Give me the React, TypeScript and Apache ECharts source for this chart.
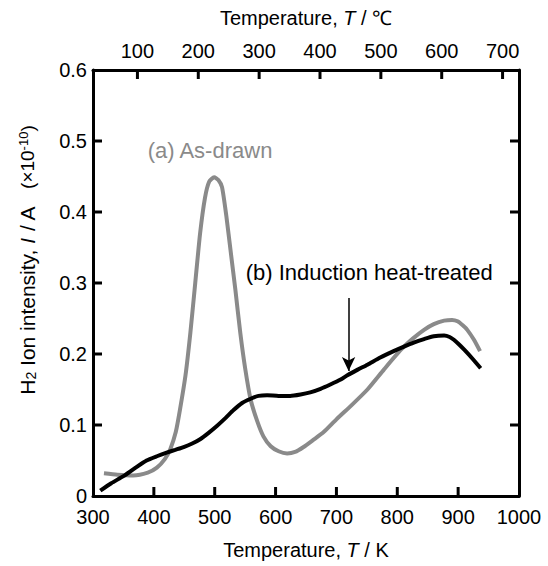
import React, { useEffect, useRef } from "react";
import * as echarts from "echarts";

const FONT = "'Liberation Sans', Arial, sans-serif";

const xTicksK = [300, 400, 500, 600, 700, 800, 900, 1000];
const topTicksC = [100, 200, 300, 400, 500, 600, 700];
const yTicks = [0, 0.1, 0.2, 0.3, 0.4, 0.5, 0.6];

// (a) As-drawn: [T (K), I (x1e-10 A)]
const asDrawn: [number, number][] = [
  [318, 0.032], [340, 0.030], [366, 0.029], [390, 0.033], [405, 0.040],
  [418, 0.052], [427, 0.066], [436, 0.090], [443, 0.122], [452, 0.170],
  [460, 0.230], [468, 0.300], [476, 0.370], [484, 0.420], [491, 0.443],
  [499, 0.449], [506, 0.445], [512, 0.435], [519, 0.395], [526, 0.346],
  [534, 0.290], [542, 0.230], [550, 0.180], [559, 0.136], [570, 0.105],
  [580, 0.084], [592, 0.070], [605, 0.063], [619, 0.060], [632, 0.062],
  [646, 0.069], [662, 0.079], [679, 0.090], [700, 0.108], [725, 0.128],
  [751, 0.150], [778, 0.178], [806, 0.206], [826, 0.222], [844, 0.234],
  [860, 0.242], [877, 0.247], [890, 0.248], [899, 0.246], [908, 0.240],
  [915, 0.234], [926, 0.220], [936, 0.204],
];

// (b) Induction heat-treated
const heatTreated: [number, number][] = [
  [312, 0.0075], [330, 0.018], [350, 0.028], [370, 0.040], [388, 0.050],
  [405, 0.056], [421, 0.061], [435, 0.065], [449, 0.069], [463, 0.074],
  [476, 0.080], [490, 0.089], [504, 0.099], [518, 0.110], [531, 0.121],
  [545, 0.131], [559, 0.137], [572, 0.141], [586, 0.142], [605, 0.141],
  [624, 0.141], [641, 0.143], [657, 0.146], [674, 0.151], [690, 0.157],
  [707, 0.164], [718, 0.170], [735, 0.178], [751, 0.185], [772, 0.195],
  [794, 0.204], [810, 0.210], [827, 0.216], [844, 0.221], [860, 0.225],
  [877, 0.226], [886, 0.224], [893, 0.220], [902, 0.213], [910, 0.206],
  [924, 0.193], [937, 0.180],
];

const arrowK = 720;
const arrowTop = 0.279;
const arrowTip = 0.176;

const labelA = { text: "(a) As-drawn", at: [389, 0.487] as [number, number] };
const labelB = { text: "(b) Induction heat-treated", at: [550, 0.315] as [number, number] };

const X_MIN = 300, X_MAX = 1000, Y_MIN = 0, Y_MAX = 0.6;
const C_TO_K = 273;
const TICK_LEN = 9;

function annot(text: string, at: [number, number], color: string) {
  return {
    silent: true,
    data: [{
      coord: at, symbol: "circle", symbolSize: 1, itemStyle: { color: "rgba(0,0,0,0)" },
      label: { show: true, position: "right", distance: 0, formatter: text, color, fontSize: 22, fontFamily: FONT },
    }],
  };
}

export default function App() {
  const ref = useRef<HTMLDivElement>(null);
  useEffect(() => {
    if (!ref.current) return;
    const chart = echarts.init(ref.current, undefined, { renderer: "svg" });
    const axisLine = () => ({ show: true, onZero: false, lineStyle: { color: "#000", width: 3 } });
    const labelStyle = { color: "#000", fontSize: 20, fontFamily: FONT };
    const nameStyle = { fill: "#000", fontSize: 21, fontFamily: FONT };

    // tick marks: [x, y, side] side 0=bottom 1=top 2=left 3=right
    const inner = (arr: number[], lo: number, hi: number) => arr.filter((v) => v > lo && v < hi);
    const tickData: number[][] = [];
    inner(xTicksK, X_MIN, X_MAX).forEach((k) => tickData.push([k, Y_MIN, 0]));
    topTicksC.map((c) => c + C_TO_K).filter((k) => k > X_MIN && k < X_MAX)
      .forEach((k) => tickData.push([k, Y_MAX, 1]));
    inner(yTicks, Y_MIN, Y_MAX).forEach((v) => {
      tickData.push([X_MIN, v, 2]);
      tickData.push([X_MAX, v, 3]);
    });

    chart.setOption({
      animation: false,
      backgroundColor: "#fff",
      grid: { left: 93, right: 29, top: 70, bottom: 70 },
      xAxis: [
        {
          type: "value", position: "bottom", min: X_MIN, max: X_MAX, interval: 100,
          axisLine: axisLine(), axisTick: { show: false }, splitLine: { show: false },
          axisLabel: { ...labelStyle, margin: 11, customValues: xTicksK, formatter: (v: number) => String(v) },
          name: "Temperature, {it|T} / K",
          nameLocation: "middle", nameGap: 44,
          nameTextStyle: { ...labelStyle, rich: { it: { ...labelStyle, fontStyle: "italic" } } },
        },
        {
          type: "value", position: "top", min: X_MIN - C_TO_K, max: X_MAX - C_TO_K,
          axisLine: axisLine(), splitLine: { show: false }, axisTick: { show: false },
          axisLabel: { ...labelStyle, margin: 9, customValues: topTicksC, formatter: (v: number) => String(v) },
          name: "Temperature, {it|T} / ℃",
          nameLocation: "middle", nameGap: 42,
          nameTextStyle: { ...labelStyle, rich: { it: { ...labelStyle, fontStyle: "italic" } } },
        },
      ],
      yAxis: [
        {
          type: "value", position: "left", min: Y_MIN, max: Y_MAX, interval: 0.1,
          axisLine: axisLine(), axisTick: { show: false }, splitLine: { show: false },
          axisLabel: {
            ...labelStyle, margin: 6, padding: [10, 0, 0, 0],
            customValues: yTicks,
            formatter: (v: number) => (v === 0 ? "0" : v.toFixed(1)),
          },
        },
        {
          type: "value", position: "right", min: Y_MIN, max: Y_MAX, interval: 0.1,
          axisLine: axisLine(), axisTick: { show: false }, splitLine: { show: false },
          axisLabel: { show: false },
        },
      ],
      graphic: [
        {
          type: "text", x: 27, y: 260, rotation: Math.PI / 2,
          style: {
            text: "H{sub|2} Ion intensity, {it|I} / A   {sm|(×10}{sup|-10}{sm|)}",
            ...nameStyle, align: "center", verticalAlign: "middle",
            rich: {
              sub: { fontSize: 14, fontFamily: FONT, fill: "#000", lineHeight: 14, verticalAlign: "bottom" },
              it: { ...nameStyle, fontStyle: "italic" },
              sm: { fontSize: 19, fontFamily: FONT, fill: "#000" },
              sup: { fontSize: 13, fontFamily: FONT, fill: "#000", lineHeight: 13, verticalAlign: "top" },
            },
          },
        },
      ],
      series: [
        {
          name: "(a) As-drawn", type: "line", data: asDrawn, showSymbol: false, symbol: "none",
          smooth: 0.2, lineStyle: { color: "#8a8a8a", width: 4 }, z: 3,
          markPoint: annot(labelA.text, labelA.at, "#8a8a8a"),
        },
        {
          name: "(b) Induction heat-treated", type: "line", data: heatTreated, showSymbol: false, symbol: "none",
          smooth: 0.2, lineStyle: { color: "#000", width: 4 }, z: 4,
          markPoint: annot(labelB.text, labelB.at, "#000"),
          markLine: {
            silent: true, symbol: ["none", "arrow"], symbolSize: [10, 14],
            lineStyle: { color: "#000", width: 1.5, type: "solid" },
            label: { show: false },
            data: [[{ coord: [arrowK, arrowTop] }, { coord: [arrowK, arrowTip] }]],
          },
        },
        {
          name: "ticks", type: "custom", data: tickData, silent: true, clip: false, z: 5,
          encode: { x: 0, y: 1 },
          renderItem: (_params: any, api: any) => {
            const p = api.coord([api.value(0), api.value(1)]);
            const side = api.value(2);
            let x2 = p[0], y2 = p[1];
            if (side === 0) y2 = p[1] - TICK_LEN;
            else if (side === 1) y2 = p[1] + TICK_LEN;
            else if (side === 2) x2 = p[0] + TICK_LEN;
            else x2 = p[0] - TICK_LEN;
            return {
              type: "line",
              shape: { x1: p[0], y1: p[1], x2, y2 },
              style: { stroke: "#000", lineWidth: 3 },
            };
          },
        },
      ],
    });
    return () => chart.dispose();
  }, []);
  return <div ref={ref} style={{ position: "fixed", left: 0, top: 0, width: 548, height: 566 }} />;
}
